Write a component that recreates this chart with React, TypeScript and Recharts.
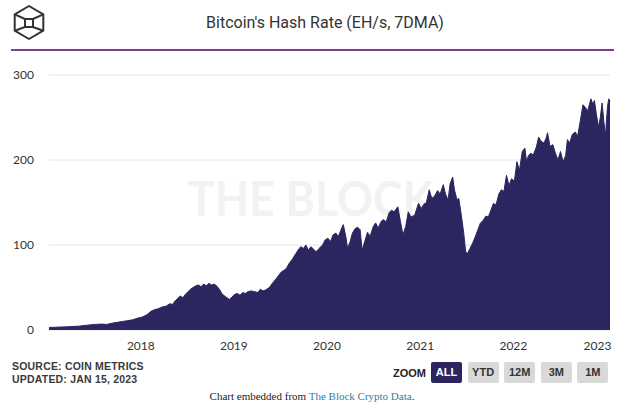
import { Area, AreaChart, CartesianGrid, XAxis, YAxis } from "recharts";

// Bitcoin hash rate, EH/s (7-day moving average)
const dates = [
	"2017-01-06", "2017-02-01", "2017-03-01", "2017-04-01", "2017-05-01", "2017-06-01", "2017-07-01", "2017-08-01",
	"2017-08-20", "2017-09-10", "2017-10-01", "2017-10-20", "2017-11-10", "2017-12-01", "2017-12-20", "2018-01-05",
	"2018-01-25", "2018-02-10", "2018-02-25", "2018-03-10", "2018-03-25", "2018-04-10", "2018-04-25", "2018-05-05",
	"2018-05-15", "2018-05-25", "2018-06-05", "2018-06-15", "2018-06-25", "2018-07-05", "2018-07-15", "2018-07-25",
	"2018-08-05", "2018-08-15", "2018-08-25", "2018-09-05", "2018-09-15", "2018-09-25", "2018-10-05", "2018-10-15",
	"2018-10-25", "2018-11-05", "2018-11-15", "2018-11-25", "2018-12-05", "2018-12-15", "2018-12-25", "2019-01-05",
	"2019-01-15", "2019-01-25", "2019-02-05", "2019-02-15", "2019-02-25", "2019-03-10", "2019-03-25", "2019-04-05",
	"2019-04-15", "2019-04-25", "2019-05-05", "2019-05-20", "2019-06-01", "2019-06-15", "2019-06-25", "2019-07-05",
	"2019-07-15", "2019-07-25", "2019-08-05", "2019-08-20", "2019-09-01", "2019-09-10", "2019-09-20", "2019-10-01",
	"2019-10-10", "2019-10-20", "2019-10-30", "2019-11-10", "2019-11-20", "2019-12-01", "2019-12-15", "2019-12-25",
	"2020-01-05", "2020-01-15", "2020-01-25", "2020-02-05", "2020-02-15", "2020-02-25", "2020-03-05", "2020-03-15",
	"2020-03-22", "2020-04-01", "2020-04-10", "2020-04-20", "2020-04-30", "2020-05-10", "2020-05-18", "2020-05-28",
	"2020-06-08", "2020-06-18", "2020-07-01", "2020-07-10", "2020-07-20", "2020-08-01", "2020-08-10", "2020-08-20",
	"2020-09-01", "2020-09-10", "2020-09-20", "2020-10-05", "2020-10-15", "2020-10-25", "2020-11-05", "2020-11-15",
	"2020-11-25", "2020-12-10", "2020-12-25", "2021-01-05", "2021-01-15", "2021-01-25", "2021-02-05", "2021-02-15",
	"2021-02-25", "2021-03-10", "2021-03-20", "2021-04-01", "2021-04-10", "2021-04-20", "2021-04-28", "2021-05-08",
	"2021-05-15", "2021-05-25", "2021-06-01", "2021-06-10", "2021-06-20", "2021-06-28", "2021-07-05", "2021-07-15",
	"2021-07-25", "2021-08-05", "2021-08-15", "2021-08-25", "2021-09-05", "2021-09-15", "2021-09-25", "2021-10-05",
	"2021-10-15", "2021-10-25", "2021-11-05", "2021-11-15", "2021-11-25", "2021-12-05", "2021-12-15", "2021-12-25",
	"2022-01-05", "2022-01-15", "2022-01-25", "2022-02-05", "2022-02-15", "2022-02-22", "2022-03-01", "2022-03-10",
	"2022-03-20", "2022-04-01", "2022-04-10", "2022-04-20", "2022-05-01", "2022-05-10", "2022-05-15", "2022-05-25",
	"2022-06-05", "2022-06-15", "2022-06-25", "2022-07-05", "2022-07-15", "2022-07-25", "2022-08-01", "2022-08-10",
	"2022-08-20", "2022-09-01", "2022-09-10", "2022-09-20", "2022-10-01", "2022-10-10", "2022-10-20", "2022-11-01",
	"2022-11-08", "2022-11-15", "2022-11-22", "2022-12-01", "2022-12-08", "2022-12-15", "2022-12-22", "2022-12-28",
	"2023-01-05", "2023-01-10", "2023-01-15",
];

const hashRate = [
	3, 3.3, 3.6, 4, 4.5, 5.5, 6.5, 7,
	6.5, 8, 9, 10, 11, 12, 14, 15,
	18, 22, 24, 25, 27, 28, 31, 30,
	34, 37, 40, 38, 42, 45, 48, 50,
	52, 53, 51, 54, 52, 55, 53, 54,
	52, 48, 43, 40, 38, 36, 39, 42,
	43, 41, 44, 43, 45, 46, 45, 44,
	48, 46, 47, 50, 55, 60, 64, 68,
	70, 72, 78, 84, 90, 94, 98, 96,
	100, 94, 98, 95, 92, 96, 100, 106,
	108, 104, 112, 114, 110, 118, 124, 110,
	96, 104, 114, 119, 121, 118, 94, 104,
	115, 110, 122, 126, 120, 128, 130, 127,
	138, 141, 139, 145, 128, 112, 122, 139,
	133, 135, 149, 143, 148, 150, 165, 155,
	157, 164, 160, 171, 160, 153, 172, 180,
	165, 153, 155, 137, 115, 92, 90, 96,
	102, 110, 118, 126, 129, 134, 133, 141,
	149, 147, 160, 165, 163, 182, 170, 178,
	175, 198, 188, 210, 214, 198, 205, 208,
	206, 215, 227, 222, 220, 226, 232, 216,
	218, 208, 200, 210, 198, 205, 224, 220,
	230, 233, 228, 245, 265, 262, 258, 272,
	266, 270, 255, 239, 250, 267, 245, 228,
	262, 272, 269,
];

const yearTicks = ["2018-01-01", "2019-01-01", "2020-01-01", "2021-01-01", "2022-01-01", "2023-01-01"];
const valueTicks = [0, 100, 200, 300];
const zoomButtons = ["ALL", "YTD", "12M", "3M", "1M"];

const chartData = dates.map((d, i) => ({ t: Date.parse(d), v: hashRate[i] }));
const tickTimes = yearTicks.map((d) => Date.parse(d));

const AREA = "#2c2660";

const YearTick = (props: any) => {
	const { x, y, payload, index } = props;
	const last = index === tickTimes.length - 1;
	return (
		<text x={last ? x - 9 : x} y={y} dy="0.71em" textAnchor="middle" fill="#333" fontSize={12} fontFamily="Lato">
			{new Date(payload.value).getUTCFullYear()}
		</text>
	);
};

const Logo = () => (
	<svg width={60} height={46} style={{ position: "absolute", left: 0, top: 0 }}>
		<g fill="none" stroke="#333" strokeWidth={2} strokeLinejoin="round">
			<polygon points="29,6 43.3,14.3 43.3,30.7 29,39 14.7,30.7 14.7,14.3" />
			<polygon points="25,19 33,19 33,27 25,27" />
			<line x1={14.7} y1={14.3} x2={25} y2={19} />
			<line x1={43.3} y1={14.3} x2={33} y2={19} />
			<line x1={14.7} y1={30.7} x2={25} y2={27} />
			<line x1={43.3} y1={30.7} x2={33} y2={27} />
		</g>
	</svg>
);

const App = () => {
	return (
		<div
			style={{
				position: "absolute",
				left: 0,
				top: 0,
				width: 624,
				height: 416,
				background: "#fff",
				overflow: "hidden",
				fontFamily: "Roboto, sans-serif",
			}}
		>
			<Logo />
			<div
				style={{
					position: "absolute",
					left: 0,
					width: 650,
					top: 13,
					textAlign: "center",
					fontSize: 16,
					color: "#333",
				}}
			>
				Bitcoin's Hash Rate (EH/s, 7DMA)
			</div>
			<div style={{ position: "absolute", left: 11, top: 49, width: 603, height: 2, background: "#7b3f9a" }} />

			<svg width={624} height={416} style={{ position: "absolute", left: 0, top: 0 }}>
				<text x={188} y={216} textLength={245} lengthAdjust="spacingAndGlyphs" fontSize={47} fontWeight="bold" fontFamily="Lato" fill="#f2f2f2">
					THE BLOCK
				</text>
			</svg>

			<div style={{ position: "absolute", left: 0, top: 0 }}>
				<AreaChart width={624} height={416} data={chartData} margin={{ top: 75, right: 14, left: 0, bottom: 0 }}>
					<CartesianGrid vertical={false} stroke="#e6e6e6" />
					<XAxis
						dataKey="t"
						type="number"
						scale="time"
						domain={["dataMin", "dataMax"]}
						ticks={tickTimes}
						height={86}
						axisLine={false}
						tickLine={false}
						tickSize={0}
						tickMargin={11}
						tick={<YearTick />}
						interval={0}
					/>
					<YAxis
						domain={[0, 300]}
						ticks={valueTicks}
						width={49}
						axisLine={false}
						tickLine={false}
						tickSize={0}
						tickMargin={15}
						tick={{ fill: "#333", fontSize: 12, fontFamily: "Lato" }}
					/>
					<Area
						type="linear"
						dataKey="v"
						stroke={AREA}
						strokeWidth={1}
						fill={AREA}
						fillOpacity={1}
						isAnimationActive={false}
					/>
				</AreaChart>
			</div>

			<div
				style={{
					position: "absolute",
					left: 12,
					top: 360,
					fontFamily: "'Liberation Sans', Arial, sans-serif",
					fontSize: 10.5,
					fontWeight: "bold",
					color: "#3a3a3a",
					letterSpacing: 0.2,
					lineHeight: "13px",
				}}
			>
				<div>SOURCE: COIN METRICS</div>
				<div>UPDATED: JAN 15, 2023</div>
			</div>

			<div
				style={{
					position: "absolute",
					left: 393,
					top: 367,
					fontFamily: "'Liberation Sans', Arial, sans-serif",
					fontSize: 11,
					fontWeight: "bold",
					color: "#222",
				}}
			>
				ZOOM
			</div>
			{zoomButtons.map((label, i) => (
				<div
					key={label}
					style={{
						position: "absolute",
						left: 431 + i * 36.6,
						top: 362,
						width: 31,
						height: 21,
						lineHeight: "21px",
						textAlign: "center",
						background: i === 0 ? AREA : "#d9d9d9",
						color: i === 0 ? "#fff" : "#333",
						fontFamily: "'Liberation Sans', Arial, sans-serif",
						fontSize: 11,
						fontWeight: "bold",
						borderRadius: 2,
					}}
				>
					{label}
				</div>
			))}

			<div
				style={{
					position: "absolute",
					left: 0,
					width: 624,
					top: 390,
					textAlign: "center",
					fontFamily: "'Liberation Serif', 'Times New Roman', serif",
					fontSize: 11,
					color: "#222",
				}}
			>
				Chart embedded from <span style={{ color: "#2a7fa8" }}>The Block Crypto Data</span>.
			</div>
		</div>
	);
};

export default App;
